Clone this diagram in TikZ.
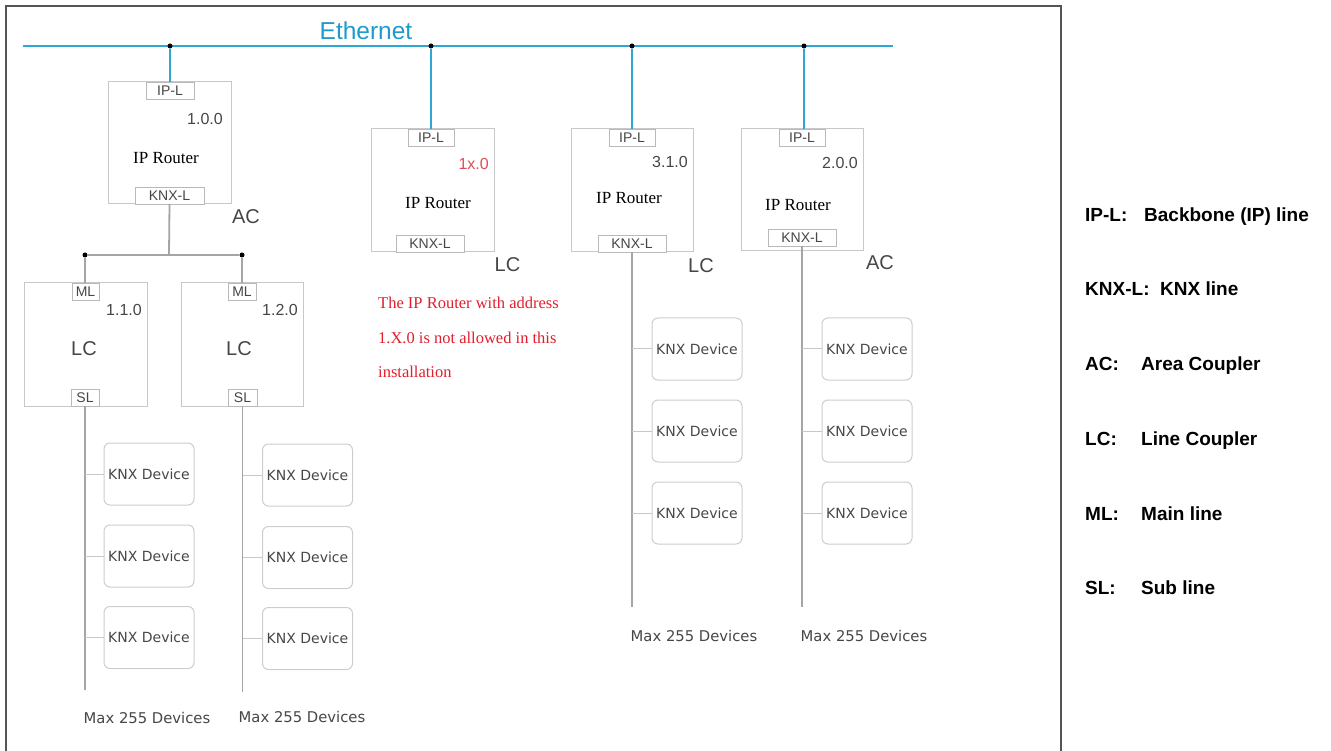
\documentclass[tikz,border=0pt]{standalone}
\usepackage{fontspec}
\setmainfont{Liberation Serif}
\newfontfamily\arialf{Liberation Sans}
\newfontfamily\dejavuf{DejaVu Sans}
\newcommand\myfs[1]{\fontsize{#1}{#1}\selectfont}
\definecolor{ethblue}{RGB}{45,168,212}
\definecolor{ethtext}{RGB}{30,155,205}
\definecolor{boxgray}{RGB}{200,200,200}
\definecolor{tabgray}{RGB}{185,185,185}
\definecolor{devgray}{RGB}{205,205,205}
\definecolor{linegray}{RGB}{165,165,165}
\definecolor{txtgray}{RGB}{70,70,70}
\definecolor{framec}{RGB}{85,85,85}
\definecolor{warnred}{RGB}{225,30,45}
\definecolor{addrred}{RGB}{225,75,85}
\tikzset{
  router/.style={draw=boxgray, line width=1pt, inner sep=0, outer sep=0},
  tab/.style={draw=tabgray, fill=white, line width=0.9pt, inner sep=0, outer sep=0,
              minimum height=17pt, font=\arialf\myfs{14}, text=txtgray},
  device/.style={draw=devgray, line width=1pt, rounded corners=6pt, minimum width=90pt,
              minimum height=62pt, inner sep=0, font=\dejavuf\myfs{14}, text=txtgray},
  lbl/.style={font=\arialf\myfs{16}, text=txtgray, inner sep=0},
  big/.style={font=\arialf\myfs{20}, text=txtgray, inner sep=0},
  rtr/.style={font=\myfs{17}, inner sep=0, text=black},
  bus/.style={draw=ethblue, line width=2pt},
  gline/.style={draw=linegray, line width=1.8pt},
  thinline/.style={draw=linegray, line width=1.2pt},
  stub/.style={draw=boxgray, line width=1pt},
  jdot/.style={circle, fill=black, inner sep=0, minimum size=5pt},
  maxl/.style={font=\dejavuf\myfs{14.8}, text=txtgray, inner sep=0},
  legend/.style={font=\arialf\bfseries\myfs{19}, anchor=base west, inner sep=0},
  warn/.style={font=\myfs{16.5}, text=warnred, anchor=base west, inner sep=0}
}
\begin{document}
\begin{tikzpicture}[x=1pt,y=-1pt]
\useasboundingbox (0,0) rectangle (1331,751);
% frame
\draw[framec, line width=1.5pt] (6,751) -- (6,6) -- (1061,6) -- (1061,751);

% Ethernet backbone
\coordinate (eL) at (23,46);
\coordinate (eR) at (893,46);
\draw[bus] (eL) -- (eR);
\node[font=\arialf\myfs{24.5}, text=ethtext, anchor=base, inner sep=0] (eth) at (366,40) {Ethernet};
\node[jdot] (j1) at (170,46) {};
\node[jdot] (j2) at (431,46) {};
\node[jdot] (j3) at (632,46) {};
\node[jdot] (j4) at (804,46) {};

% ---------- Router 1 (AC 1.0.0)
\node[router, minimum width=123pt, minimum height=122pt] (r1) at (169.5,143) {};
\node[tab, minimum width=48pt, anchor=north] (r1ip) at (170,82) {IP-L};
\node[tab, minimum width=69pt, anchor=south] (r1knx) at (169.5,204) {KNX-L};
\node[lbl, anchor=east] (r1a) at (223,119) {1.0.0};
\node[rtr] (r1n) at (166,158) {IP Router};
\node[big] (r1t) at (246,217) {AC};
\draw[bus] (j1) -- (r1ip.north -| j1);

% ---------- Router 2 (1x.0)
\node[router, minimum width=123pt, minimum height=123pt] (r2) at (432.5,190.5) {};
\node[tab, minimum width=46pt, anchor=north] (r2ip) at (431,129) {IP-L};
\node[tab, minimum width=68pt, anchor=south] (r2knx) at (430,252) {KNX-L};
\node[lbl, anchor=east, text=addrred] (r2a) at (489,164) {1x.0};
\node[rtr] (r2n) at (438,203) {IP Router};
\node[big] (r2t) at (507.5,265) {LC};
\draw[bus] (j2) -- (r2ip.north -| j2);

% ---------- Router 3 (3.1.0)
\node[router, minimum width=122pt, minimum height=123pt] (r3) at (632,190.5) {};
\node[tab, minimum width=46pt, anchor=north] (r3ip) at (632,129) {IP-L};
\node[tab, minimum width=68pt, anchor=south] (r3knx) at (632,252) {KNX-L};
\node[lbl, anchor=east] (r3a) at (688,162) {3.1.0};
\node[rtr] (r3n) at (629,198) {IP Router};
\node[big] (r3t) at (701,266) {LC};
\draw[bus] (j3) -- (r3ip.north -| j3);

% ---------- Router 4 (AC 2.0.0)
\node[router, minimum width=122pt, minimum height=122pt] (r4) at (802,190) {};
\node[tab, minimum width=46pt, anchor=north] (r4ip) at (802,129) {IP-L};
\node[tab, minimum width=68pt] (r4knx) at (802,237.5) {KNX-L};
\node[lbl, anchor=east] (r4a) at (858,163) {2.0.0};
\node[rtr] (r4n) at (798,205) {IP Router};
\node[big] (r4t) at (880,263) {AC};
\draw[bus] (j4) -- (r4ip.north -| j4);

% ---------- Main line below router 1
\coordinate (h1) at (169,255);
\node[jdot] (j5) at (85,255) {};
\node[jdot] (j6) at (242,255) {};
\draw[gline] (r1knx.south) -- (h1);
\draw[thinline] (j5) -- (j6);

% ---------- Line coupler 1.1.0
\node[router, minimum width=123pt, minimum height=123pt] (c1) at (85.5,344.5) {};
\node[tab, minimum width=27pt, anchor=north] (c1ml) at (85.5,283) {ML};
\node[tab, minimum width=28pt, anchor=south] (c1sl) at (85,406) {SL};
\node[lbl, anchor=east] (c1a) at (142,310) {1.1.0};
\node[big] (c1t) at (84,349) {LC};
\draw[thinline] (j5) -- (c1ml.north -| j5);

% ---------- Line coupler 1.2.0
\node[router, minimum width=122pt, minimum height=123pt] (c2) at (242,344.5) {};
\node[tab, minimum width=28pt, anchor=north] (c2ml) at (242,283) {ML};
\node[tab, minimum width=29pt, anchor=south] (c2sl) at (242.5,406) {SL};
\node[lbl, anchor=east] (c2a) at (298,310) {1.2.0};
\node[big] (c2t) at (239,349) {LC};
\draw[thinline] (j6) -- (c2ml.north -| j6);

% ---------- Line bottoms
\coordinate (b1) at (85,690);
\coordinate (b2) at (242.5,692);
\coordinate (b3) at (632,607);
\coordinate (b4) at (802,607);
\draw[gline] (c1sl.south) -- (b1);
\draw[gline] (c2sl.south) -- (b2);
\draw[gline] (r3knx.south) -- (b3);
\draw[gline] (r4knx.south) -- (b4);

% ---------- Devices
\node[device] (d11) at (149,474) {KNX Device};
\node[device] (d12) at (149,556) {KNX Device};
\node[device] (d13) at (149,637.5) {KNX Device};
\node[device] (d21) at (307.5,475) {KNX Device};
\node[device] (d22) at (307.5,557.5) {KNX Device};
\node[device] (d23) at (307.5,638.5) {KNX Device};
\node[device] (d31) at (697,349) {KNX Device};
\node[device] (d32) at (697,431) {KNX Device};
\node[device] (d33) at (697,513) {KNX Device};
\node[device] (d41) at (867,349) {KNX Device};
\node[device] (d42) at (867,431) {KNX Device};
\node[device] (d43) at (867,513) {KNX Device};
\foreach \d in {d11,d12,d13} \draw[stub] (\d.west) -- (\d.west -| b1);
\foreach \d in {d21,d22,d23} \draw[stub] (\d.west) -- (\d.west -| b2);
\foreach \d in {d31,d32,d33} \draw[stub] (\d.west) -- (\d.west -| b3);
\foreach \d in {d41,d42,d43} \draw[stub] (\d.west) -- (\d.west -| b4);

% ---------- Max labels
\node[maxl] (m1) at (147,718) {Max 255 Devices};
\node[maxl] (m2) at (302,717) {Max 255 Devices};
\node[maxl] (m3) at (694,636) {Max 255 Devices};
\node[maxl] (m4) at (864,636) {Max 255 Devices};

% ---------- Warning text
\node[warn] (w1) at (378,308.5) {The IP Router with address};
\node[warn] (w2) at (378,343.5) {1.X.0 is not allowed in this};
\node[warn] (w3) at (378,377.5) {installation};

% ---------- Legend
\node[legend] (k1) at (1085,221.5) {IP-L:};
\node[legend] (v1) at (1144,221.5) {Backbone (IP) line};
\node[legend] (k2) at (1085,296) {KNX-L:};
\node[legend] (v2) at (1160,296) {KNX line};
\node[legend] (k3) at (1085,370.5) {AC:};
\node[legend] (v3) at (1141,370.5) {Area Coupler};
\node[legend] (k4) at (1085,445) {LC:};
\node[legend] (v4) at (1141,445) {Line Coupler};
\node[legend] (k5) at (1085,520) {ML:};
\node[legend] (v5) at (1141,520) {Main line};
\node[legend] (k6) at (1085,594) {SL:};
\node[legend] (v6) at (1141,594) {Sub line};
\end{tikzpicture}
\end{document}
